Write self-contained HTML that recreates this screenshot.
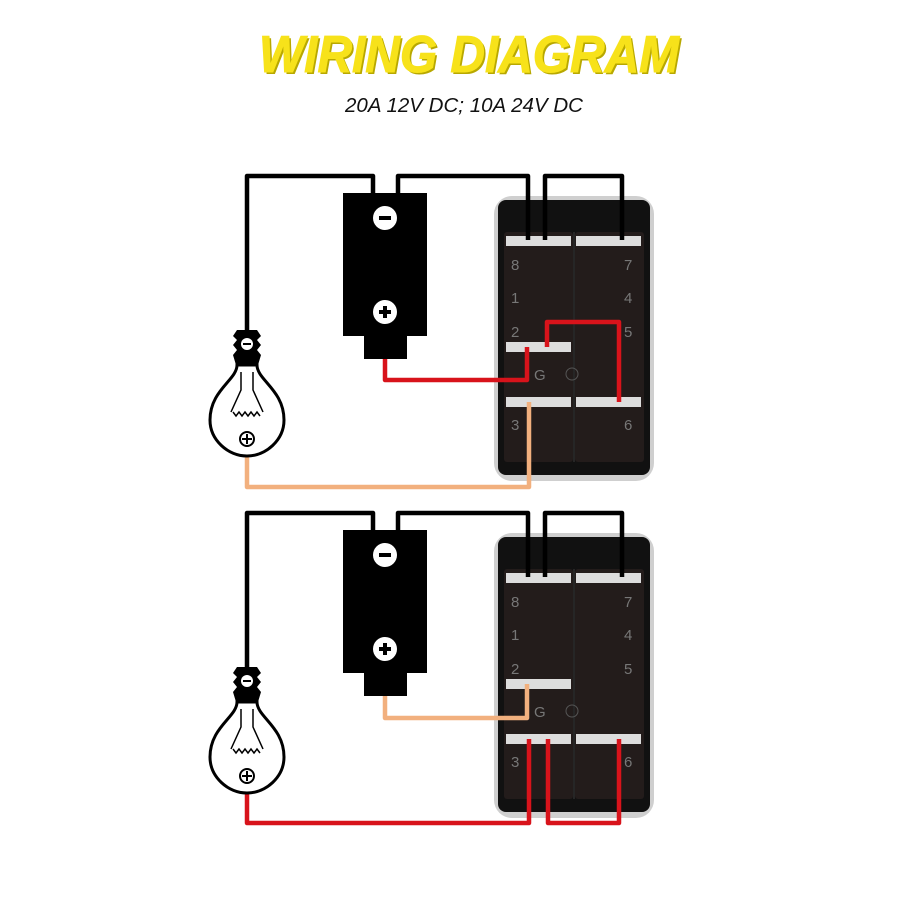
<!DOCTYPE html>
<html><head><style>html,body{margin:0;padding:0;background:#fff}svg{display:block}</style></head>
<body>
<svg width="901" height="899" viewBox="0 0 901 899" xmlns="http://www.w3.org/2000/svg" font-family="Liberation Sans, sans-serif">
<rect width="901" height="899" fill="#fff"/>
<text x="469" y="72" text-anchor="middle" font-size="52" font-weight="bold" font-style="italic" fill="#b8a800" textLength="420" lengthAdjust="spacingAndGlyphs" transform="translate(2,2)">WIRING DIAGRAM</text>
<text x="469" y="72" text-anchor="middle" font-size="52" font-weight="bold" font-style="italic" fill="#f7e21a" stroke="#f7e21a" stroke-width="1" textLength="420" lengthAdjust="spacingAndGlyphs">WIRING DIAGRAM</text>
<text x="464" y="112" text-anchor="middle" font-size="20" font-style="italic" fill="#111" textLength="238" lengthAdjust="spacingAndGlyphs">20A 12V DC; 10A 24V DC</text>

<g>
 <rect x="494" y="196" width="160" height="285" rx="18" fill="#cfcfcf"/>
 <rect x="498" y="200" width="152" height="275" rx="8" fill="#111"/>
 <rect x="504" y="232" width="69" height="230" rx="3" fill="#231c1b"/>
 <rect x="575" y="232" width="69" height="230" rx="3" fill="#231c1b"/>
 <line x1="574" y1="232" x2="574" y2="462" stroke="#3a3a3a"/>
 <g fill="#ddd">
  <rect x="506" y="236" width="65" height="10"/><rect x="576" y="236" width="65" height="10"/>
  <rect x="506" y="342" width="65" height="10"/>
  <rect x="506" y="397" width="65" height="10"/><rect x="576" y="397" width="65" height="10"/>
 </g>
 <circle cx="572" cy="374" r="6" fill="none" stroke="#555"/>
 <g fill="#777" font-size="15">
  <text x="511" y="270">8</text><text x="624" y="270">7</text>
  <text x="511" y="303">1</text><text x="624" y="303">4</text>
  <text x="511" y="337">2</text><text x="624" y="337">5</text>
  <text x="534" y="380">G</text>
  <text x="511" y="430">3</text><text x="624" y="430">6</text>
 </g>
 <rect x="343" y="193" width="84" height="143" fill="#000"/>
 <rect x="364" y="336" width="43" height="23" fill="#000"/>
 <circle cx="385" cy="218" r="12" fill="#fff"/><rect x="379" y="216" width="12" height="4" fill="#000"/>
 <circle cx="385" cy="312" r="12" fill="#fff"/><rect x="379" y="310" width="12" height="4" fill="#000"/><rect x="383" y="306" width="4" height="12" fill="#000"/>
 <g fill="none" stroke-width="4.5" stroke-linejoin="round">
  <path d="M247 335 V176 H373 V193" stroke="#000"/>
  <path d="M398 193 V176 H528 V240" stroke="#000"/>
  <path d="M545 240 V176 H622 V240" stroke="#000"/>
  <path d="M385 359 V380 H527 V347" stroke="#d8131b"/>
  <path d="M547 347 V322 H619 V402" stroke="#d8131b"/>
  <path d="M529 402 V487 H247 V455" stroke="#f2b07e"/>
 </g>
 <path d="M237 330 h20 l4 6 -4 4 4 5 -4 5 4 5 -3 10 h-22 l-3 -10 4 -5 -4 -5 4 -5 -4 -4z" fill="#000"/>
 <circle cx="247" cy="344" r="6" fill="#fff"/><rect x="243" y="343" width="8" height="2" fill="#000"/>
 <path d="M237 365 C237 380 210 390 210 420 C210 440 228 456 247 456 C266 456 284 440 284 420 C284 390 257 380 257 365 Z" fill="#fff" stroke="#000" stroke-width="3"/>
 <path d="M241 372 v18 l-10 22 M253 372 v18 l10 22 M233 412 l3 4 3 -4 3 4 3 -4 3 4 3 -4 3 4 3 -4 3 4" fill="none" stroke="#000" stroke-width="1.5"/>
 <circle cx="247" cy="439" r="7" fill="#fff" stroke="#000" stroke-width="2"/><path d="M242 439 h10 M247 434 v10" stroke="#000" stroke-width="2"/>
</g>

<g transform="translate(0,337)">
 <rect x="494" y="196" width="160" height="285" rx="18" fill="#cfcfcf"/>
 <rect x="498" y="200" width="152" height="275" rx="8" fill="#111"/>
 <rect x="504" y="232" width="69" height="230" rx="3" fill="#231c1b"/>
 <rect x="575" y="232" width="69" height="230" rx="3" fill="#231c1b"/>
 <line x1="574" y1="232" x2="574" y2="462" stroke="#3a3a3a"/>
 <g fill="#ddd">
  <rect x="506" y="236" width="65" height="10"/><rect x="576" y="236" width="65" height="10"/>
  <rect x="506" y="342" width="65" height="10"/>
  <rect x="506" y="397" width="65" height="10"/><rect x="576" y="397" width="65" height="10"/>
 </g>
 <circle cx="572" cy="374" r="6" fill="none" stroke="#555"/>
 <g fill="#777" font-size="15">
  <text x="511" y="270">8</text><text x="624" y="270">7</text>
  <text x="511" y="303">1</text><text x="624" y="303">4</text>
  <text x="511" y="337">2</text><text x="624" y="337">5</text>
  <text x="534" y="380">G</text>
  <text x="511" y="430">3</text><text x="624" y="430">6</text>
 </g>
 <rect x="343" y="193" width="84" height="143" fill="#000"/>
 <rect x="364" y="336" width="43" height="23" fill="#000"/>
 <circle cx="385" cy="218" r="12" fill="#fff"/><rect x="379" y="216" width="12" height="4" fill="#000"/>
 <circle cx="385" cy="312" r="12" fill="#fff"/><rect x="379" y="310" width="12" height="4" fill="#000"/><rect x="383" y="306" width="4" height="12" fill="#000"/>
 <g fill="none" stroke-width="4.5" stroke-linejoin="round">
  <path d="M247 335 V176 H373 V193" stroke="#000"/>
  <path d="M398 193 V176 H528 V240" stroke="#000"/>
  <path d="M545 240 V176 H622 V240" stroke="#000"/>
  <path d="M385 359 V381 H527 V347" stroke="#f2b07e"/>
  <path d="M529 402 V486 H247 V457" stroke="#d8131b"/>
  <path d="M548 402 V486 H619 V402" stroke="#d8131b"/>
 </g>
 <path d="M237 330 h20 l4 6 -4 4 4 5 -4 5 4 5 -3 10 h-22 l-3 -10 4 -5 -4 -5 4 -5 -4 -4z" fill="#000"/>
 <circle cx="247" cy="344" r="6" fill="#fff"/><rect x="243" y="343" width="8" height="2" fill="#000"/>
 <path d="M237 365 C237 380 210 390 210 420 C210 440 228 456 247 456 C266 456 284 440 284 420 C284 390 257 380 257 365 Z" fill="#fff" stroke="#000" stroke-width="3"/>
 <path d="M241 372 v18 l-10 22 M253 372 v18 l10 22 M233 412 l3 4 3 -4 3 4 3 -4 3 4 3 -4 3 4 3 -4 3 4" fill="none" stroke="#000" stroke-width="1.5"/>
 <circle cx="247" cy="439" r="7" fill="#fff" stroke="#000" stroke-width="2"/><path d="M242 439 h10 M247 434 v10" stroke="#000" stroke-width="2"/>
</g>
</svg>
</body></html>
